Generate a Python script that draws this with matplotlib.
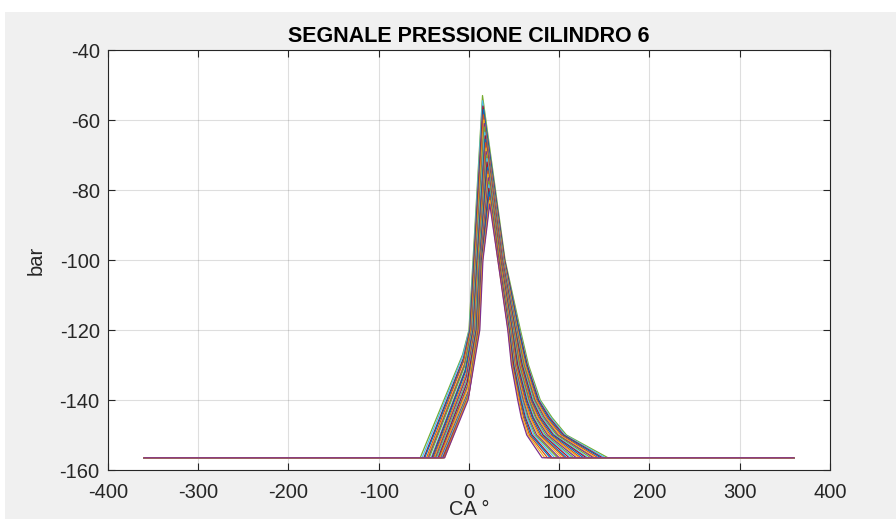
import matplotlib
matplotlib.use('Agg')
import matplotlib.pyplot as plt
from matplotlib.patches import Rectangle

# MATLAB default line colours
COLORS = ['#0072BD', '#D95319', '#EDB120', '#7E2F8E', '#77AC30', '#4DBEEE', '#A2142F']

BASE = -156.5          # flat level of every trace (bar)
CA_MIN, CA_MAX = -360, 360

# key points of each trace (crank angle in deg, pressure in bar)
start_ca = [-54, -52, -50, -49, -47, -46, -45, -44, -42, -41, -40, -39, -38, -37,
            -36, -35, -34, -33, -33, -32, -31, -30, -30, -29, -28, -28, -27, -27]
knee_ca = [-7, -7, -6, -6, -6, -5, -5, -5, -4, -4, -4, -3, -3, -3,
           -2, -2, -2, -1, -1, -1, 0, 0, 0, 0, -1, -1, -1, -1]
knee_p = [-127, -127.5, -128, -128.5, -129, -129.5, -130, -130.5, -131, -131.5,
          -132, -132.5, -133, -133.5, -134, -134.5, -135, -135.5, -136, -136.5,
          -137, -137.5, -138, -138.5, -139, -139, -139.5, -140]
rise120_ca = [0, 0.5, 1, 1.5, 2, 2.5, 3, 3.5, 4, 4.5, 5, 5.5, 6, 6.5,
              7, 7.5, 8, 8.5, 9, 9.5, 10, 10, 10.5, 10.5, 11, 11, 11.5, 12]
rise100_ca = [4.5, 5, 5.5, 6, 6.5, 7, 7.5, 8, 8.5, 9, 9.5, 10, 10.5, 11,
              11, 11.5, 12, 12, 12.5, 13, 13, 13.5, 14, 14, 14.5, 15, 15, 15.5]
peak_ca = [15, 15, 15.5, 16, 16, 16.5, 17, 17, 17.5, 18, 18, 18.5, 19, 19,
           19.5, 20, 20, 20.5, 21, 21, 21.5, 22, 22, 22, 22.5, 23, 23, 23]
peak_p = [-53, -54.5, -56, -57, -58.5, -60, -61, -62, -63.5, -64.5, -65.5, -66.5,
          -68, -69, -70, -71, -72, -73.5, -74.5, -75.5, -76.5, -77.5, -78.5,
          -79.5, -80.5, -82, -83, -84]
fall100_ca = [40, 39.5, 39.5, 39, 38.5, 38.5, 38, 37.5, 37.5, 37, 36.5, 36.5, 36, 36,
              35.5, 35, 35, 34.5, 34.5, 34, 33.5, 33.5, 33, 33, 32.5, 32.5, 32, 32]
fall120_ca = [57, 56, 55.5, 55, 54, 53.5, 53, 52.5, 52, 51.5, 51, 50.5, 50, 49.5,
              49, 48.5, 48, 47.5, 47, 46.5, 46, 45.5, 45, 44.5, 44, 43.5, 43.5, 43]
fall130_ca = [66, 65, 64.5, 63.5, 62.5, 62, 61, 60.5, 59.5, 59, 58, 57.5, 56.5, 56,
              55.5, 54.5, 54, 53, 52.5, 51.5, 51, 50.5, 50, 49.5, 48.5, 48, 47.5, 47]
fall140_ca = [79, 78, 77, 76, 75, 74, 73, 72, 71, 70, 69, 68, 67, 66.5,
              66, 65, 64, 63, 62, 61, 60, 59, 58.5, 57.5, 57, 56, 55, 54]
fall145_ca = [92, 90.5, 89, 87.5, 86, 85, 83.5, 82, 81, 79.5, 78, 77, 76, 74.5,
              73.5, 72, 71, 70, 68.5, 67.5, 66, 65, 64, 62.5, 61.5, 60.5, 59, 58]
fall150_ca = [108, 106.5, 105, 103.5, 102, 100, 98.5, 97, 95, 93.5, 92, 90, 88.5, 87,
              85, 83.5, 82, 80, 78.5, 77, 75, 73.5, 72, 70, 68.5, 67, 65.5, 64]
end_ca = [154, 151, 148, 146, 143, 140, 138, 135, 132, 130, 127, 124, 122, 119,
          116, 114, 111, 108, 106, 103, 100, 98, 95, 92, 90, 87, 84, 81]

x_ticks = [-400, -300, -200, -100, 0, 100, 200, 300, 400]
y_ticks = [-160, -140, -120, -100, -80, -60, -40]

plt.rcParams['font.family'] = ['Liberation Sans', 'DejaVu Sans']
plt.rcParams['axes.unicode_minus'] = False

fig = plt.figure(figsize=(8.96, 5.19), dpi=100, facecolor='white')
# grey MATLAB figure background (thin white strip top/left like the screenshot)
bg = Rectangle((5 / 896, 0), 1, 1 - 12 / 519, transform=fig.transFigure,
               facecolor='#f0f0f0', edgecolor='none', zorder=-10)
fig.add_artist(bg)

ax = fig.add_axes([0.1205, 0.0944, 0.8058, 0.8092])
ax.set_facecolor('white')

for i in range(len(peak_p)):
    xs = [CA_MIN, start_ca[i], knee_ca[i], rise120_ca[i], rise100_ca[i], peak_ca[i],
          fall100_ca[i], fall120_ca[i], fall130_ca[i], fall140_ca[i], fall145_ca[i],
          fall150_ca[i], end_ca[i], CA_MAX]
    ys = [BASE, BASE, knee_p[i], -120, -100, peak_p[i],
          -100, -120, -130, -140, -145, -150, BASE, BASE]
    ax.plot(xs, ys, color=COLORS[(i + 4) % 7], lw=0.9)

ax.set_xlim(-400, 400)
ax.set_ylim(-160, -40)
ax.set_xticks(x_ticks)
ax.set_yticks(y_ticks)
ax.grid(True, color='#262626', alpha=0.15, lw=0.8)
ax.set_axisbelow(True)
ax.tick_params(direction='in', top=True, right=True, labelsize=14.5,
               colors='#262626', length=5, width=0.8)
ax.tick_params(axis='x', pad=9)
ax.tick_params(axis='y', pad=6)
for s in ax.spines.values():
    s.set_color('#262626')
    s.set_linewidth(0.8)

ax.set_title('SEGNALE PRESSIONE CILINDRO 6', fontsize=15.5, fontweight='bold',
             color='black', pad=6)
ax.set_ylabel('bar', fontsize=14.5, color='#262626', labelpad=10)
ax.set_xlabel('CA °', fontsize=14.5, color='#262626', labelpad=-1)

fig.savefig('out.png', dpi=100, facecolor=fig.get_facecolor())
